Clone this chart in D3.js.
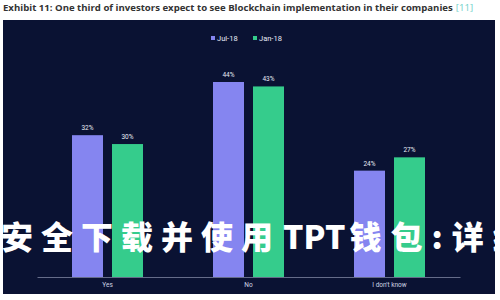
<!DOCTYPE html>
<html>
<head>
<meta charset="utf-8">
<script src="https://cdn.jsdelivr.net/npm/d3@7"></script>
<style>
  body { margin: 0; background: #fff; }
  svg { display: block; font-family: Roboto, "Noto Sans", sans-serif; }
</style>
</head>
<body>
<div id="chart"></div>
<script>
// Chart data
const categories = ['Yes', 'No', "I don't know"]
const seriesNames = ['Jul-18', 'Jan-18']
const jul18 = [32, 44, 24]
const jan18 = [30, 43, 27]
const seriesColors = ['#8585f0', '#35cc8c']
const titleText = 'Exhibit 11: One third of investors expect to see Blockchain implementation in their companies'
const titleRef = '[11]'
const overlayParts = ['安全下载并使用', 'TPT', '钱包:详细']

let width = 500, height = 300
let margin = { top: 20, left: 3, right: 5, bottom: 6 }

let svg = d3.select('#chart').append('svg')
    .attr('width', width)
    .attr('height', height)

// Title
let title = svg.append('text')
  .attr('x', 3)
  .attr('y', 11)
  .attr('font-size', 9.6)
  .attr('font-weight', 'bold')
  .attr('font-family', '"Open Sans", sans-serif')
  .attr('fill', '#333')
title.append('tspan').text(titleText)
title.append('tspan').attr('dx', 3).attr('fill', '#6fd0c8').attr('font-weight', 'normal').text(titleRef)

// Dark panel
svg.append('rect')
  .attr('x', margin.left)
  .attr('y', margin.top)
  .attr('width', width - margin.left - margin.right)
  .attr('height', height - margin.top - margin.bottom)
  .attr('fill', '#0a1233')

// Scales
let x0 = d3.scaleBand()
    .domain(categories)
    .range([37, 460])

let bw = x0.bandwidth()
let x1 = d3.scaleBand()
    .domain(seriesNames)
    .range([bw / 2 - 35.5, bw / 2 + 35.5])
    .paddingInner(0.225)

let y = d3.scaleLinear()
    .domain([0, 44])
    .range([277, 82])

let color = d3.scaleOrdinal().domain(seriesNames).range(seriesColors)

// Legend
let legend = svg.append('g').attr('font-size', 7.5).attr('fill', '#e8eaf5')
let legendX = [211, 253]
seriesNames.forEach((s, i) => {
  legend.append('rect')
    .attr('x', legendX[i])
    .attr('y', 36)
    .attr('width', 4)
    .attr('height', 4)
    .attr('fill', color(s))
  legend.append('text')
    .attr('x', legendX[i] + 6)
    .attr('y', 40.5)
    .attr('fill', '#e8eaf5')
    .text(s)
})

// Bars
let rows = categories.map((c, i) => ({ cat: c, values: [
  { key: 'Jul-18', value: jul18[i] },
  { key: 'Jan-18', value: jan18[i] }
] }))

let groups = svg.selectAll('.group')
    .data(rows)
    .enter().append('g')
    .attr('class', 'group')
    .attr('transform', d => 'translate(' + x0(d.cat) + ',0)')

groups.selectAll('rect')
  .data(d => d.values)
  .enter().append('rect')
  .attr('x', d => x1(d.key))
  .attr('y', d => y(d.value))
  .attr('width', x1.bandwidth())
  .attr('height', d => y(0) - y(d.value))
  .attr('fill', d => color(d.key))

groups.selectAll('.val')
  .data(d => d.values)
  .enter().append('text')
  .attr('class', 'val')
  .attr('x', d => x1(d.key) + x1.bandwidth() / 2)
  .attr('y', d => y(d.value) - 5)
  .attr('text-anchor', 'middle')
  .attr('font-size', 6.5)
  .attr('fill', '#e8eaf5')
  .text(d => d.value + '%')

// X axis
let xAxis = d3.axisBottom(x0).tickSize(0).tickPadding(5)
let axisG = svg.append('g')
  .attr('transform', 'translate(0,' + y(0) + ')')
  .call(xAxis)
axisG.select('.domain').attr('stroke', '#7c84a0').attr('stroke-width', 0.8)
axisG.selectAll('text').attr('font-size', 6.5).attr('fill', '#d0d4e4').attr('font-family', 'Roboto, sans-serif')

// Overlay text
let overlay = svg.append('text')
  .attr('x', 1)
  .attr('y', 249)
  .attr('font-size', 32)
  .attr('font-weight', 900)
  .attr('font-family', '"Noto Sans CJK SC", sans-serif')
  .attr('fill', '#ffffff')
overlay.append('tspan').attr('letter-spacing', 8).text(overlayParts[0])
overlay.append('tspan').attr('letter-spacing', 0).attr('dx', 2).text(overlayParts[1])
overlay.append('tspan').attr('letter-spacing', 9).attr('dx', 4).text(overlayParts[2])
</script>
</body>
</html>
